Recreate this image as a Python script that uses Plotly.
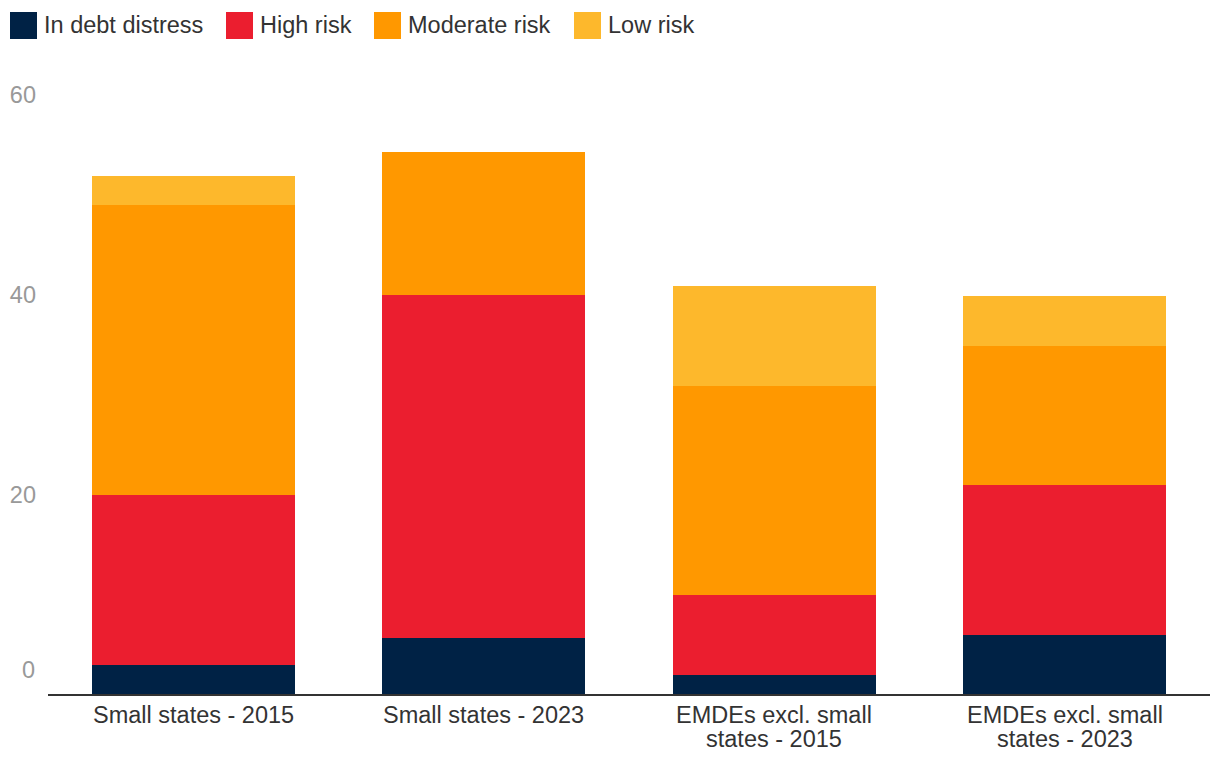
import plotly.graph_objects as go

# ---- data ----
categories = ["Small states - 2015", "Small states - 2023",
              "EMDEs excl. small states - 2015", "EMDEs excl. small states - 2023"]
category_lines = [["Small states - 2015"], ["Small states - 2023"],
                  ["EMDEs excl. small", "states - 2015"], ["EMDEs excl. small", "states - 2023"]]
in_debt_distress = [2.9, 5.6, 1.9, 5.9]
high_risk = [17.0, 34.4, 8.0, 15.0]
moderate_risk = [29.1, 14.3, 21.0, 14.0]
low_risk = [2.9, 0.0, 10.0, 5.0]
series_names = ["In debt distress", "High risk", "Moderate risk", "Low risk"]
series_colors = ["#002245", "#EB1E2F", "#FF9800", "#FDB82C"]
ytick_vals = [20, 40, 60]
ytick_text = ["20", "40", "60"]

FONT = "Liberation Sans, Arial, Helvetica, sans-serif"
FS = 23.5
W, H = 1220, 770
ML, MR, MT, MB = 48, 10, 95, 76
PW, PH = W - ML - MR, H - MT - MB

def px2x(px):
    return (px - ML) / PW

def py2y(py):
    return (H - MB - py) / PH

fig = go.Figure()
for name, vals, col in zip(series_names,
                           [in_debt_distress, high_risk, moderate_risk, low_risk],
                           series_colors):
    fig.add_trace(go.Bar(x=categories, y=vals, name=name, marker_color=col,
                         marker_line_width=0, showlegend=False))

shapes = []
annotations = []

# manual legend (large square swatches)
legend_left = [10, 226, 374, 574]
for lx, name, col in zip(legend_left, series_names, series_colors):
    shapes.append(dict(type="rect", xref="paper", yref="paper",
                       x0=px2x(lx), x1=px2x(lx + 27), y0=py2y(39), y1=py2y(12),
                       fillcolor=col, line_width=0))
    annotations.append(dict(xref="paper", yref="paper", x=px2x(lx + 32), y=py2y(25),
                            text=name, showarrow=False, xanchor="left", yanchor="middle",
                            font=dict(family=FONT, size=FS, color="#333333")))

# category labels (tight line spacing)
for cat, lines in zip(categories, category_lines):
    for i, line in enumerate(lines):
        annotations.append(dict(xref="x", yref="paper", x=cat, y=0, text=line,
                                showarrow=False, xanchor="center", yanchor="middle",
                                yshift=-(21 + 24 * i),
                                font=dict(family=FONT, size=FS, color="#333333")))

# zero label (raised above the axis line)
annotations.append(dict(xref="paper", yref="y", x=0, y=0, text="0", showarrow=False,
                        xanchor="right", yanchor="middle", xshift=-11, yshift=24,
                        font=dict(family=FONT, size=FS, color="#999999")))

fig.update_layout(
    width=W, height=H,
    margin=dict(l=ML, r=MR, t=MT, b=MB),
    barmode="stack", bargap=0.3,
    plot_bgcolor="white", paper_bgcolor="white",
    font=dict(family=FONT, size=FS, color="#333333"),
    shapes=shapes, annotations=annotations,
    xaxis=dict(showgrid=False, showline=True, linecolor="#333333", linewidth=2,
               ticks="", showticklabels=False),
    yaxis=dict(range=[0, 60], showgrid=False, zeroline=False, showline=False,
               tickvals=ytick_vals, ticktext=ytick_text, ticks="",
               ticklabelstandoff=11,
               tickfont=dict(family=FONT, size=FS, color="#999999")),
)

fig.write_html("out.html",
               config={"displayModeBar": False},
               post_script="document.body.style.margin='0';document.body.style.padding='0';")
